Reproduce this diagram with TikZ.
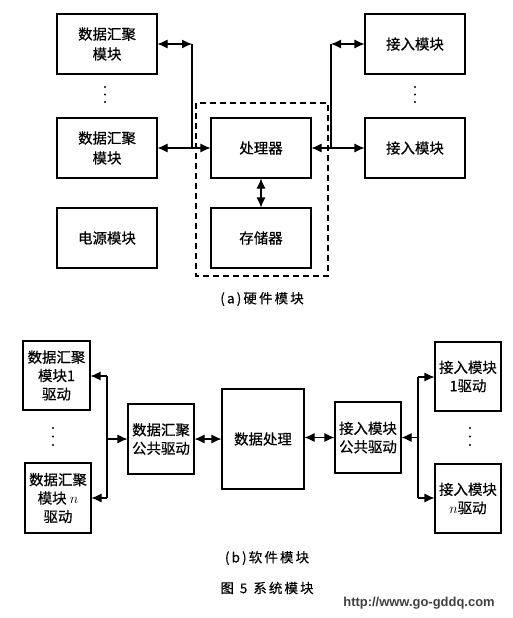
\documentclass[tikz,border=0pt]{standalone}
\usepackage{fontspec}
\setmainfont{Noto Sans CJK SC}[FakeBold=0.6]
\newfontfamily\capfont{Noto Sans CJK SC}[LetterSpace=16, FakeBold=0.4]
\newfontfamily\urlfont{Liberation Sans}
\usetikzlibrary{arrows.meta}
\tikzset{
  box/.style={draw, line width=1.1pt, align=center, inner sep=0pt,
    font=\fontsize{14.5}{20}\selectfont},
  sbox/.style={box, font=\fontsize{14.5}{18.5}\selectfont},
  dbl/.style={{Latex[length=10bp,width=9bp]}-{Latex[length=10bp,width=9bp]}, line width=1.1pt},
  one/.style={-{Latex[length=10bp,width=9bp]}, line width=1.1pt},
  wire/.style={line width=1.1pt},
  captext/.style={font=\capfont\fontsize{13.5}{16}\selectfont, inner sep=0pt}
}
\begin{document}
\begin{tikzpicture}[x=1bp,y=-1bp]
\fill[white] (0,0) rectangle (513,618);
\useasboundingbox (0,0) rectangle (513,618);
% ---------- (a) hardware ----------
\node[box, minimum width=100bp, minimum height=60bp] (ha1) at (107,44) {数据汇聚\\模块};
\node[box, minimum width=100bp, minimum height=60bp] (ha2) at (107,148) {数据汇聚\\模块};
\node[box, minimum width=100bp, minimum height=60bp] (pw) at (107,238) {电源模块};
\node[box, minimum width=100bp, minimum height=60bp] (cpu) at (261,148) {处理器};
\node[box, minimum width=100bp, minimum height=60bp] (mem) at (261,238) {存储器};
\node[box, minimum width=100bp, minimum height=60bp] (ac1) at (415,44) {接入模块};
\node[box, minimum width=100bp, minimum height=60bp] (ac2) at (415,148) {接入模块};
\draw[line width=1.1pt, dash pattern=on 6bp off 4bp] (196,103) rectangle (328,276);
\foreach \yy in {87,94.5,102}{
  \fill (105,\yy) circle (1.2bp);
  \fill (415,\yy) circle (1.2bp);
}
\coordinate (jL) at (192,44);
\coordinate (jR) at (331,44);
\draw[dbl] (ha1.east) -- (jL);
\draw[wire] (jL) -- (jL |- cpu.west);
\draw[dbl] (ha2.east) -- (cpu.west);
\draw[dbl] (jR) -- (ac1.west);
\draw[wire] (jR) -- (jR |- cpu.east);
\draw[dbl] (cpu.east) -- (ac2.west);
\draw[dbl] (cpu.south) -- (mem.north);
\node[captext] (capa) at (262,299) {(a)硬件模块};
% ---------- (b) software ----------
\node[sbox, minimum width=67bp, minimum height=69bp] (sl1) at (56.5,375.5) {数据汇聚\\模块1\\驱动};
\node[sbox, minimum width=66bp, minimum height=70bp] (sln) at (58,498) {数据汇聚\\模块 $n$\\驱动};
\node[sbox, minimum width=66bp, minimum height=70bp] (sc) at (161,439) {数据汇聚\\公共驱动};
\node[sbox, minimum width=82bp, minimum height=100bp] (dp) at (263,439) {数据处理};
\node[sbox, minimum width=66bp, minimum height=71bp] (ac) at (368,437.5) {接入模块\\公共驱动};
\node[sbox, minimum width=66bp, minimum height=69bp] (sr1) at (468,376.5) {接入模块\\1驱动};
\node[sbox, minimum width=66bp, minimum height=69bp] (srn) at (468,498.5) {接入模块\\$n$驱动};
\foreach \yy in {428,436.5,445}{
  \fill (53,\yy) circle (1.2bp);
  \fill (470,\yy) circle (1.2bp);
}
\coordinate (vL1) at (107,376);
\coordinate (vLn) at (107,498);
\coordinate (vLm) at (107,439);
\draw[wire] (vL1) -- (vLn);
\draw[one] (vL1) -- (sl1.east |- vL1);
\draw[one] (vLn) -- (sln.east |- vLn);
\draw[one] (vLm) -- (sc.west);
\draw[dbl] (sc.east) -- (sc.east -| dp.west);
\draw[dbl] (dp.east |- ac.east) -- (ac.west);
\coordinate (vR1) at (418,377);
\coordinate (vRn) at (418,498);
\coordinate (vRm) at (418,437.5);
\draw[wire] (vR1) -- (vRn);
\draw[one] (vRm) -- (ac.east);
\draw[one] (vR1) -- (sr1.west |- vR1);
\draw[one] (vRn) -- (srn.west |- vRn);
\node[captext] (capb) at (267,558) {(b)软件模块};
\node[captext] (fig) at (267,588) {图\hspace{6bp}5\hspace{6bp}系统模块};
\node[font=\urlfont\bfseries\fontsize{13}{15}\selectfont, text=black!75, inner sep=0pt] (url) at (419,603) {http://www.go-gddq.com};
\end{tikzpicture}
\end{document}
